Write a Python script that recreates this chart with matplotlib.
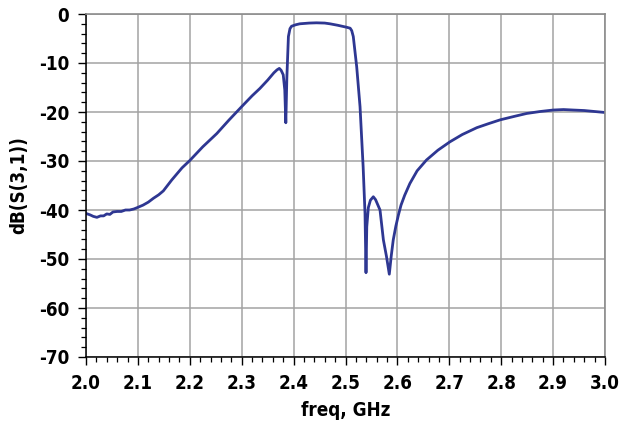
import matplotlib
matplotlib.use("Agg")
import matplotlib.pyplot as plt
from matplotlib.ticker import MultipleLocator

plt.rcParams["font.family"] = ["DejaVu Sans"]
plt.rcParams["font.stretch"] = "condensed"
plt.rcParams["font.weight"] = "bold"
plt.rcParams["axes.unicode_minus"] = False

# S(3,1) trace (freq in GHz, magnitude in dB)
freq_ghz = [
    2.000, 2.008, 2.014, 2.021, 2.028, 2.034, 2.040, 2.046, 2.052, 2.060,
    2.068, 2.076, 2.084, 2.092, 2.099, 2.110, 2.120, 2.130, 2.140, 2.149,
    2.165, 2.185, 2.200, 2.225, 2.252, 2.275, 2.300, 2.320, 2.335, 2.350,
    2.362, 2.368, 2.3725, 2.376, 2.380, 2.383, 2.385, 2.387, 2.390, 2.393,
    2.396, 2.404, 2.412, 2.430, 2.444, 2.460, 2.470, 2.485, 2.502, 2.509,
    2.512, 2.515, 2.5216, 2.528, 2.534, 2.5376, 2.5395, 2.541, 2.544, 2.548,
    2.5536, 2.558, 2.5665, 2.573, 2.579, 2.5844, 2.588, 2.592, 2.597, 2.602,
    2.607, 2.614, 2.624, 2.638, 2.656, 2.678, 2.701, 2.725, 2.753, 2.775,
    2.798, 2.825, 2.849, 2.875, 2.900, 2.920, 2.939, 2.960, 2.980, 3.000,
]
s31_db = [
    -40.7, -41.0, -41.3, -41.5, -41.2, -41.2, -40.8, -40.9, -40.4, -40.3,
    -40.3, -40.0, -40.0, -39.8, -39.5, -39.0, -38.4, -37.6, -36.9, -36.1,
    -33.9, -31.4, -29.9, -27.1, -24.4, -21.7, -18.9, -16.7, -15.2, -13.5,
    -12.0, -11.4, -11.1, -11.5, -12.4, -15.5, -22.2, -13.0, -4.6, -3.0,
    -2.5, -2.2, -2.0, -1.85, -1.8, -1.85, -2.0, -2.3, -2.7, -2.9,
    -3.4, -4.6, -10.8, -18.9, -31.2, -40.7, -52.8, -43.4, -39.5, -38.0,
    -37.3, -37.9, -40.0, -46.1, -49.5, -53.1, -49.5, -46.1, -43.3, -41.0,
    -39.0, -37.0, -34.6, -32.0, -29.8, -27.8, -26.1, -24.6, -23.2, -22.4,
    -21.6, -20.9, -20.3, -19.9, -19.6, -19.5, -19.6, -19.7, -19.9, -20.1,
]

x_ticks = [2.0, 2.1, 2.2, 2.3, 2.4, 2.5, 2.6, 2.7, 2.8, 2.9, 3.0]
y_ticks = [0, -10, -20, -30, -40, -50, -60, -70]

fig = plt.figure(figsize=(6.3, 4.23), dpi=100)
ax = fig.add_axes([86 / 630, 1 - 357 / 423, 519 / 630, 343 / 423])

ax.plot(freq_ghz, s31_db, color="#2e3792", lw=2.0, solid_joinstyle="round")

ax.set_xlim(2.0, 3.0)
ax.set_ylim(-70, 0)
ax.set_xticks(x_ticks)
ax.set_xticklabels([f"{v:.1f}" for v in x_ticks])
ax.set_yticks(y_ticks)
ax.set_yticklabels([str(v) for v in y_ticks])
ax.xaxis.set_minor_locator(MultipleLocator(0.02))
ax.yaxis.set_minor_locator(MultipleLocator(2))
ax.tick_params(axis="both", which="major", direction="out", length=6,
               width=1, labelsize=13.5)
ax.tick_params(axis="x", which="major", pad=6)
ax.tick_params(axis="y", which="major", pad=6)
ax.tick_params(axis="both", which="minor", direction="out", length=3.5, width=0.9)

ax.grid(True, which="major", color="#a3a3a3", lw=1.1)
for side in ("top", "right"):
    ax.spines[side].set_color("#8c8c8c")
    ax.spines[side].set_linewidth(1.2)
for side in ("left", "bottom"):
    ax.spines[side].set_color("black")
    ax.spines[side].set_linewidth(1.1)

ax.set_xlabel("freq, GHz", fontsize=13.5, fontweight="bold", labelpad=6)
ax.set_ylabel("dB(S(3,1))", fontsize=13.5, fontweight="bold", labelpad=8)

fig.savefig("out.png", dpi=100)
